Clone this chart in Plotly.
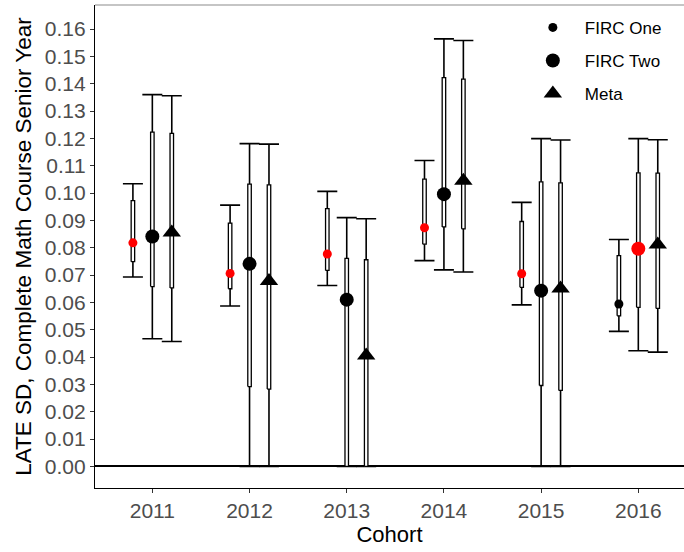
import plotly.graph_objects as go

# Cohorts and estimates (LATE in SD units) with 95% and inner intervals
cohorts = [2011, 2012, 2013, 2014, 2015, 2016]

firc1_est = [0.0818, 0.0706, 0.0777, 0.0873, 0.0705, 0.0594]
firc1_lo95 = [0.0693, 0.0587, 0.0662, 0.0753, 0.0591, 0.0494]
firc1_hi95 = [0.1034, 0.0956, 0.1006, 0.1119, 0.0966, 0.0830]
firc1_lo_in = [0.0749, 0.0650, 0.0717, 0.0813, 0.0655, 0.0551]
firc1_hi_in = [0.0972, 0.0890, 0.0943, 0.1051, 0.0896, 0.0771]
firc1_flag = [True, True, True, True, True, False]

firc2_est = [0.0841, 0.0741, 0.0610, 0.0996, 0.0643, 0.0796]
firc2_lo95 = [0.0467, 0.0, 0.0, 0.0719, 0.0, 0.0423]
firc2_hi95 = [0.1360, 0.1181, 0.0910, 0.1564, 0.1199, 0.1199]
firc2_lo_in = [0.0658, 0.0292, 0.0, 0.0876, 0.0296, 0.0582]
firc2_hi_in = [0.1223, 0.1033, 0.0761, 0.1422, 0.1041, 0.1074]
firc2_flag = [False, False, False, False, False, True]

meta_est = [0.0856, 0.0678, 0.0406, 0.1045, 0.0651, 0.0812]
meta_lo95 = [0.0457, 0.0, 0.0, 0.0711, 0.0, 0.0418]
meta_hi95 = [0.1356, 0.1179, 0.0906, 0.1558, 0.1194, 0.1195]
meta_lo_in = [0.0653, 0.0283, 0.0, 0.0869, 0.0278, 0.0578]
meta_hi_in = [0.1218, 0.1030, 0.0756, 0.1417, 0.1037, 0.1073]
meta_flag = [False, False, False, False, False, False]

series_names = ["FIRC One", "FIRC Two", "Meta"]
y_ticks = [i / 100 for i in range(0, 17)]

FONT = "Liberation Sans, Arial, sans-serif"
DODGE = [-0.2, 0.0, 0.2]
BOX_HALF = 0.018
SYMBOLS = ["circle", "circle", "triangle-up"]
SIZES = [9, 14, 16]

series = [
    (firc1_est, firc1_lo95, firc1_hi95, firc1_lo_in, firc1_hi_in, firc1_flag),
    (firc2_est, firc2_lo95, firc2_hi95, firc2_lo_in, firc2_hi_in, firc2_flag),
    (meta_est, meta_lo95, meta_hi95, meta_lo_in, meta_hi_in, meta_flag),
]

fig = go.Figure()

# outer whiskers with caps
for k, (est, lo, hi, lo_in, hi_in, flag) in enumerate(series):
    xs = [c + DODGE[k] for c in cohorts]
    fig.add_trace(go.Scatter(
        x=xs, y=est, mode="markers",
        marker=dict(size=1, opacity=0),
        error_y=dict(type="data", symmetric=False,
                     array=[h - e for h, e in zip(hi, est)],
                     arrayminus=[e - l for e, l in zip(est, lo)],
                     width=10, thickness=1.6, color="black"),
        showlegend=False, hoverinfo="skip",
    ))

# inner interval boxes (white fill, black outline)
for k, (est, lo, hi, lo_in, hi_in, flag) in enumerate(series):
    bx, by = [], []
    for c, l, h in zip(cohorts, lo_in, hi_in):
        x0 = c + DODGE[k] - BOX_HALF
        x1 = c + DODGE[k] + BOX_HALF
        bx += [x0, x1, x1, x0, x0, None]
        by += [l, l, h, h, l, None]
    fig.add_trace(go.Scatter(
        x=bx, y=by, mode="lines", fill="toself", fillcolor="white",
        line=dict(color="black", width=1.3),
        showlegend=False, hoverinfo="skip",
    ))

# point estimates
for k, (est, lo, hi, lo_in, hi_in, flag) in enumerate(series):
    xs = [c + DODGE[k] for c in cohorts]
    fig.add_trace(go.Scatter(
        x=xs, y=est, mode="markers",
        marker=dict(symbol=SYMBOLS[k], size=SIZES[k],
                    color=["red" if f else "black" for f in flag],
                    line=dict(width=0)),
        showlegend=False, name=series_names[k],
    ))

# legend entries
for k in range(3):
    fig.add_trace(go.Scatter(
        x=[None], y=[None], mode="markers", name=series_names[k],
        marker=dict(symbol=SYMBOLS[k], size=SIZES[k], color="black"),
        legendgroup=series_names[k], showlegend=True,
    ))

fig.add_shape(type="line", xref="paper", yref="paper", x0=0, x1=1, y0=1, y1=1,
              line=dict(color="#8c8c8c", width=1.2))

fig.update_layout(
    width=684, height=552,
    margin=dict(l=95, r=0, t=5, b=64),
    paper_bgcolor="white", plot_bgcolor="white",
    font=dict(family=FONT, color="black"),
    showlegend=True,
    legend=dict(x=0.723, y=0.99, xanchor="left", yanchor="top",
                font=dict(size=17, family=FONT, color="black"),
                bgcolor="rgba(0,0,0,0)", itemsizing="trace",
                itemwidth=54, tracegroupgap=8),
    xaxis=dict(
        range=[2010.41, 2016.47],
        tickvals=cohorts, ticktext=[str(c) for c in cohorts],
        showgrid=False, zeroline=False,
        showline=True, linecolor="black", linewidth=1.4,
        ticks="outside", ticklen=4, tickcolor="#333333", tickwidth=1.2,
        tickfont=dict(size=21, color="#4D4D4D", family=FONT),
        title=dict(text="Cohort", font=dict(size=22, color="black", family=FONT),
                   standoff=3),
    ),
    yaxis=dict(
        range=[-0.0079, 0.1688],
        tickvals=y_ticks, ticktext=[f"{v:.2f}" for v in y_ticks],
        showgrid=False,
        zeroline=True, zerolinecolor="black", zerolinewidth=1.6,
        showline=True, linecolor="black", linewidth=1.4,
        ticks="outside", ticklen=4, tickcolor="#333333", tickwidth=1.2,
        tickfont=dict(size=21, color="#4D4D4D", family=FONT),
        title=dict(text="LATE SD, Complete Math Course Senior Year",
                   font=dict(size=22.5, color="black", family=FONT), standoff=6),
    ),
)

fig.write_html("out.html")
